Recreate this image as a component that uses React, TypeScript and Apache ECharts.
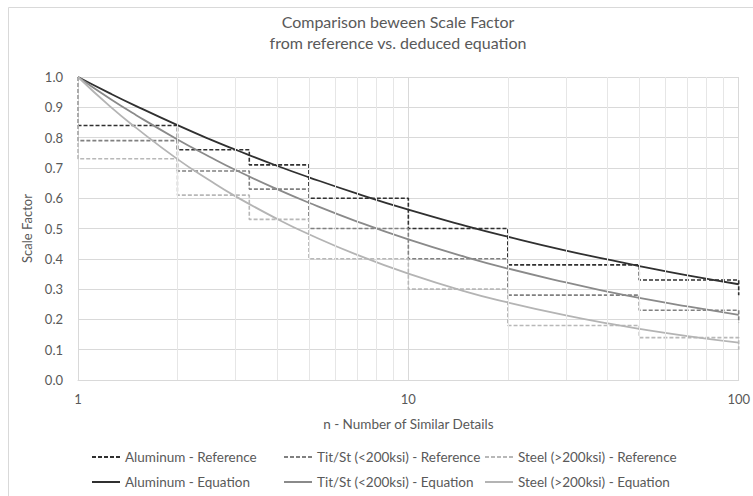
import React, { useEffect, useRef } from "react";
import * as echarts from "echarts";

const titleLines = ["Comparison beween Scale Factor", "from reference vs. deduced equation"];
const xAxisName = "n - Number of Similar Details";
const yAxisName = "Scale Factor";

// Reference (step) data
const stepBounds = [1, 2, 3.3, 5, 10, 20, 50, 100];
const alumRefLevels = [0.84, 0.76, 0.71, 0.6, 0.5, 0.38, 0.33];
const titRefLevels = [0.79, 0.69, 0.63, 0.5, 0.4, 0.28, 0.23];
const steelRefLevels = [0.73, 0.61, 0.53, 0.4, 0.3, 0.18, 0.14];
const refStart = 1.0;
const alumRefEnd = 0.28;
const titRefEnd = 0.19;
const steelRefEnd = 0.1;

// Equation curves
const eqN = [1, 1.25, 1.5, 2, 2.5, 3, 4, 5, 7, 10, 15, 20, 30, 40, 50, 70, 100];
const alumEq = [1.0, 0.946, 0.904, 0.841, 0.795, 0.76, 0.707, 0.669, 0.615, 0.562, 0.508, 0.473, 0.427, 0.398, 0.376, 0.345, 0.316];
const titEq = [1.0, 0.928, 0.874, 0.794, 0.737, 0.693, 0.63, 0.585, 0.523, 0.464, 0.405, 0.368, 0.322, 0.292, 0.271, 0.243, 0.215];
const steelEq = [1.0, 0.903, 0.832, 0.729, 0.659, 0.606, 0.532, 0.481, 0.413, 0.351, 0.291, 0.256, 0.213, 0.187, 0.169, 0.145, 0.123];

const minorX = [2, 3, 4, 5, 6, 7, 8, 9, 20, 30, 40, 50, 60, 70, 80, 90];

const names = {
  alumRef: "Aluminum - Reference",
  titRef: "Tit/St (<200ksi) - Reference",
  steelRef: "Steel (>200ksi) - Reference",
  alumEq: "Aluminum - Equation",
  titEq: "Tit/St (<200ksi) - Equation",
  steelEq: "Steel (>200ksi) - Equation",
};

const FONT = "Lato, 'Noto Sans', sans-serif";
const TEXT = "#595959";

function buildSteps(levels: number[], end: number): number[][] {
  const pts: number[][] = [[stepBounds[0], refStart]];
  for (let i = 0; i < levels.length; i++) {
    pts.push([stepBounds[i], levels[i]]);
    pts.push([stepBounds[i + 1], levels[i]]);
  }
  pts.push([stepBounds[stepBounds.length - 1], end]);
  return pts;
}

function pair(xs: number[], ys: number[]): number[][] {
  return xs.map((x, i) => [x, ys[i]]);
}

export default function App() {
  const ref = useRef<HTMLDivElement>(null);
  useEffect(() => {
    document.body.style.margin = "0";
    if (!ref.current) return;
    const chart = echarts.init(ref.current, undefined, { renderer: "svg" });
    const refLine = (name: string, data: number[][], color: string) => ({
      name,
      type: "line",
      data,
      showSymbol: false,
      symbol: "none",
      lineStyle: { color, width: 1.6, type: [4, 2] },
      itemStyle: { color },
      z: 3,
    });
    const eqLine = (name: string, data: number[][], color: string) => ({
      name,
      type: "line",
      data,
      smooth: true,
      showSymbol: false,
      symbol: "none",
      lineStyle: { color, width: 1.8 },
      itemStyle: { color },
      z: 4,
    });
    const legendBase = {
      orient: "vertical",
      top: 450,
      itemWidth: 28,
      itemHeight: 14,
      itemGap: 11,
      padding: 0,
      itemStyle: { opacity: 0 },
      textStyle: { fontFamily: FONT, fontSize: 13.5, color: TEXT },
      selectedMode: false,
    };
    chart.setOption({
      animation: false,
      backgroundColor: "#ffffff",
      title: {
        text: titleLines.join("\n"),
        left: 393,
        top: 6,
        textAlign: "center",
        textStyle: { fontFamily: FONT, fontSize: 16, fontWeight: "normal", color: TEXT, lineHeight: 21 },
      },
      graphic: [
        {
          type: "rect",
          shape: { x: 8.5, y: 7.5, width: 900, height: 700 },
          style: { fill: "none", stroke: "#d9d9d9", lineWidth: 1 },
          silent: true,
        },
      ],
      legend: [
        { ...legendBase, left: 91, data: [names.alumRef, names.alumEq] },
        { ...legendBase, left: 283, data: [names.titRef, names.titEq] },
        { ...legendBase, left: 484, data: [names.steelRef, names.steelEq] },
      ],
      grid: { left: 78, right: 13, top: 77, bottom: 116 },
      xAxis: {
        type: "log",
        logBase: 10,
        min: 1,
        max: 100,
        name: xAxisName,
        nameLocation: "middle",
        nameGap: 37,
        nameTextStyle: { fontFamily: FONT, fontSize: 13.5, color: TEXT },
        axisLine: { show: true, lineStyle: { color: "#d9d9d9" } },
        axisTick: { show: false },
        axisLabel: { fontFamily: FONT, fontSize: 13, color: TEXT, margin: 12 },
        splitLine: { show: true, lineStyle: { color: "#d9d9d9", width: 1 } },
      },
      yAxis: {
        type: "value",
        min: 0,
        max: 1,
        interval: 0.1,
        name: yAxisName,
        nameLocation: "middle",
        nameGap: 42,
        nameRotate: 90,
        nameTextStyle: { fontFamily: FONT, fontSize: 13, color: TEXT },
        axisLine: { show: false },
        axisTick: { show: false },
        axisLabel: {
          fontFamily: FONT,
          fontSize: 13,
          color: TEXT,
          margin: 15,
          formatter: (v: number) => v.toFixed(1),
        },
        splitLine: { show: true, lineStyle: { color: "#d9d9d9", width: 1 } },
      },
      series: [
        {
          name: "minor-grid",
          type: "line",
          data: [],
          silent: true,
          z: 1,
          markLine: {
            silent: true,
            symbol: ["none", "none"],
            label: { show: false },
            lineStyle: { color: "#e6e6e6", width: 1, type: "solid" },
            data: minorX.map((x) => ({ xAxis: x })),
          },
        },
        refLine(names.alumRef, buildSteps(alumRefLevels, alumRefEnd), "#303030"),
        refLine(names.titRef, buildSteps(titRefLevels, titRefEnd), "#808080"),
        refLine(names.steelRef, buildSteps(steelRefLevels, steelRefEnd), "#b8b8b8"),
        eqLine(names.alumEq, pair(eqN, alumEq), "#303030"),
        eqLine(names.titEq, pair(eqN, titEq), "#8a8a8a"),
        eqLine(names.steelEq, pair(eqN, steelEq), "#b4b4b4"),
      ],
    });
    return () => chart.dispose();
  }, []);
  return <div ref={ref} style={{ width: 753, height: 496, overflow: "hidden" }} />;
}
